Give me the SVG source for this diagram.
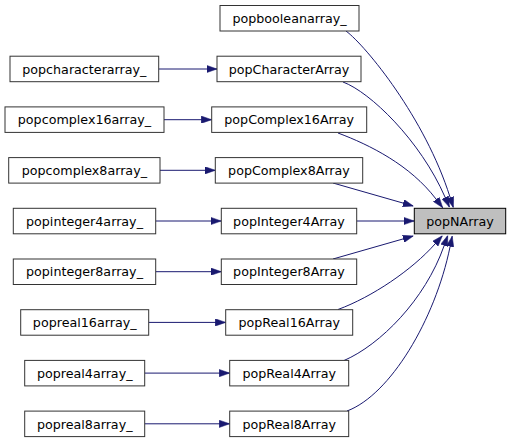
<svg xmlns="http://www.w3.org/2000/svg" width="511" height="443" viewBox="0 0 511 443">
<defs>
<marker id="ah" viewBox="0 0 10 7" refX="10" refY="3.5" markerWidth="10.5" markerHeight="7.5" markerUnits="userSpaceOnUse" orient="auto">
<path d="M0,0 L10,3.5 L0,7 z" fill="#191970" stroke="#191970" stroke-width="0.5"/>
</marker>
</defs>
<style>
.n rect{fill:#ffffff;stroke:#333333;stroke-width:1}
.n.h rect{fill:#bfbfbf;stroke:#000000}
.n text{font-family:"DejaVu Sans",sans-serif;font-size:12.7px;text-anchor:middle;fill:#000}
#edges path{fill:none;stroke:#191970;stroke-width:1;marker-end:url(#ah)}
</style>
<rect width="511" height="443" fill="#ffffff"/>
<g id="edges">
<path d="M158.7,69 L217,69"/>
<path d="M164,119.7 L211.7,119.7"/>
<path d="M160,170.3 L215.3,170.3"/>
<path d="M155.7,221 L221.3,221"/>
<path d="M155.7,271.7 L221.3,271.7"/>
<path d="M148.7,322.4 L225.7,322.4"/>
<path d="M144.7,373.1 L229.7,373.1"/>
<path d="M144.7,423.8 L229.7,423.8"/>
<path d="M346,31 C366,46 425,118 450,197 L453.3,207.5"/>
<path d="M343,82 C370,92 420,140 445,197 L449.4,207.1"/>
<path d="M338,133 C370,145 410,165 436,199 L442.7,207.7"/>
<path d="M333,183 L413.3,206"/>
<path d="M356.7,221 L414.3,221"/>
<path d="M333,259 L413.3,236"/>
<path d="M338,309.5 C372,297 412,270 435,244 L442.3,235.8"/>
<path d="M344,360.5 C380,345 425,300 444,246 L447.7,235.6"/>
<path d="M347,411 C390,395 435,320 450,247 L452.2,236.2"/>
</g>
<g id="popcharacterarray_" class="n"><rect x="10" y="56.2" width="148.7" height="25.5"/><text x="84.35" y="73.6">popcharacterarray_</text></g>
<g id="popcomplex16array_" class="n"><rect x="5" y="106.9" width="159" height="25.5"/><text x="84.5" y="124.3">popcomplex16array_</text></g>
<g id="popcomplex8array_" class="n"><rect x="8.7" y="157.6" width="151.3" height="25.5"/><text x="84.35" y="175">popcomplex8array_</text></g>
<g id="popinteger4array_" class="n"><rect x="13.3" y="208.3" width="142.4" height="25.5"/><text x="84.5" y="225.7">popinteger4array_</text></g>
<g id="popinteger8array_" class="n"><rect x="13.3" y="259" width="142.4" height="25.5"/><text x="84.5" y="276.4">popinteger8array_</text></g>
<g id="popreal16array_" class="n"><rect x="20.7" y="309.7" width="128" height="25.5"/><text x="84.7" y="327.1">popreal16array_</text></g>
<g id="popreal4array_" class="n"><rect x="24.7" y="360.4" width="120" height="25.5"/><text x="84.7" y="377.8">popreal4array_</text></g>
<g id="popreal8array_" class="n"><rect x="24.7" y="411.1" width="120" height="25.5"/><text x="84.7" y="428.5">popreal8array_</text></g>
<g id="popbooleanarray_" class="n"><rect x="220" y="5.5" width="139" height="25.5"/><text x="289.5" y="22.9">popbooleanarray_</text></g>
<g id="popCharacterArray" class="n"><rect x="217" y="56.2" width="144" height="25.5"/><text x="289" y="73.6">popCharacterArray</text></g>
<g id="popComplex16Array" class="n"><rect x="211.7" y="106.9" width="155" height="25.5"/><text x="289.2" y="124.3">popComplex16Array</text></g>
<g id="popComplex8Array" class="n"><rect x="215.3" y="157.6" width="147.4" height="25.5"/><text x="289" y="175">popComplex8Array</text></g>
<g id="popInteger4Array" class="n"><rect x="221.3" y="208.3" width="135.4" height="25.5"/><text x="289" y="225.7">popInteger4Array</text></g>
<g id="popInteger8Array" class="n"><rect x="221.3" y="259" width="135.4" height="25.5"/><text x="289" y="276.4">popInteger8Array</text></g>
<g id="popReal16Array" class="n"><rect x="225.7" y="309.7" width="127" height="25.5"/><text x="289.2" y="327.1">popReal16Array</text></g>
<g id="popReal4Array" class="n"><rect x="229.7" y="360.4" width="119" height="25.5"/><text x="289.2" y="377.8">popReal4Array</text></g>
<g id="popReal8Array" class="n"><rect x="229.7" y="411.1" width="119" height="25.5"/><text x="289.2" y="428.5">popReal8Array</text></g>
<g id="popNArray" class="n h"><rect x="414.3" y="208.3" width="91.4" height="25.5"/><text x="460" y="225.7">popNArray</text></g>
</svg>
